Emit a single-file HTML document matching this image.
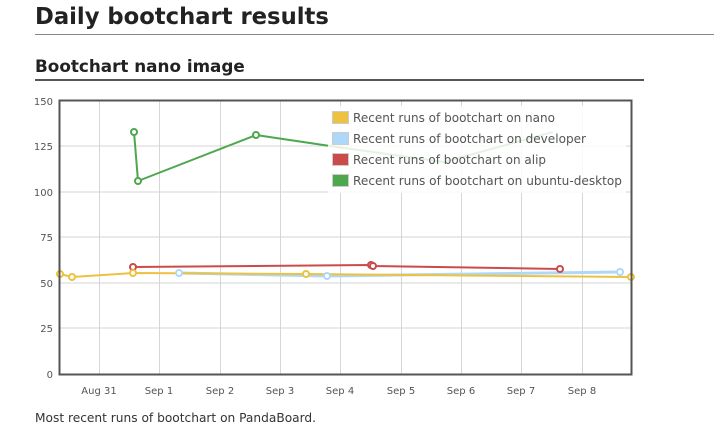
<!DOCTYPE html>
<html><head><meta charset="utf-8"><style>
body{margin:0;background:#fff;font-family:"DejaVu Sans","Liberation Sans",sans-serif;color:#222;width:714px;height:431px;overflow:hidden;position:relative}
h1{position:absolute;left:35px;top:0;margin:0;font-size:22.7px;font-weight:bold;line-height:34px;width:679px;border-bottom:1px solid #888}
h2{position:absolute;left:35px;top:53px;margin:0;font-size:16.8px;font-weight:bold;line-height:26px;width:609px;border-bottom:2px solid #555}
.cap{position:absolute;left:35px;top:411px;font-size:12.2px;color:#333}
svg{position:absolute;left:0;top:0}
</style></head><body>
<h1>Daily bootchart results</h1>
<h2>Bootchart nano image</h2>
<svg width="714" height="431" font-family="DejaVu Sans, Liberation Sans, sans-serif">
<g stroke="#d6d6d6" stroke-width="1">
<line x1="60" y1="146" x2="631" y2="146"/><line x1="60" y1="192" x2="631" y2="192"/><line x1="60" y1="237" x2="631" y2="237"/><line x1="60" y1="283" x2="631" y2="283"/><line x1="60" y1="328" x2="631" y2="328"/>
<line x1="99.5" y1="101" x2="99.5" y2="374"/><line x1="159.5" y1="101" x2="159.5" y2="374"/><line x1="220.5" y1="101" x2="220.5" y2="374"/><line x1="280.5" y1="101" x2="280.5" y2="374"/><line x1="340.5" y1="101" x2="340.5" y2="374"/><line x1="401.5" y1="101" x2="401.5" y2="374"/><line x1="461.5" y1="101" x2="461.5" y2="374"/><line x1="521.5" y1="101" x2="521.5" y2="374"/><line x1="582.5" y1="101" x2="582.5" y2="374"/>
</g>
<g font-size="10" fill="#545454" text-anchor="end">
<text x="53" y="105">150</text><text x="53" y="150">125</text><text x="53" y="196">100</text><text x="53" y="241">75</text><text x="53" y="287">50</text><text x="53" y="332">25</text><text x="53" y="378">0</text>
</g>
<g font-size="10" fill="#545454" text-anchor="middle">
<text x="99" y="394">Aug 31</text><text x="159" y="394">Sep 1</text><text x="220" y="394">Sep 2</text><text x="280" y="394">Sep 3</text><text x="340" y="394">Sep 4</text><text x="401" y="394">Sep 5</text><text x="461" y="394">Sep 6</text><text x="521" y="394">Sep 7</text><text x="582" y="394">Sep 8</text>
</g>
<g fill="none" stroke-width="2" stroke-linejoin="round">
<polyline stroke="#4da74d" points="134,132 138,181 256,135 330,146 444,162 553,132"/>
<polyline stroke="#cb4b4b" points="133,267 371,265 373,266 560,269"/>
<polyline stroke="#afd8f8" stroke-width="3" points="179,273 327,276 620,272"/>
<polyline stroke="#edc240" points="60,274 72,277 133,273 306,274 631,277"/>
</g>
<g fill="#fff" stroke-width="2">
<g stroke="#4da74d"><circle cx="134" cy="132" r="3"/><circle cx="138" cy="181" r="3"/><circle cx="256" cy="135" r="3"/></g>
<g stroke="#cb4b4b"><circle cx="133" cy="267" r="3"/><circle cx="371" cy="265" r="3"/><circle cx="373" cy="266" r="3"/><circle cx="560" cy="269" r="3"/></g>
<g stroke="#afd8f8"><circle cx="179" cy="273" r="3"/><circle cx="327" cy="276" r="3"/><circle cx="620" cy="272" r="3"/></g>
<g stroke="#edc240"><circle cx="60" cy="274" r="3"/><circle cx="72" cy="277" r="3"/><circle cx="133" cy="273" r="3"/><circle cx="306" cy="274" r="3"/><circle cx="631" cy="277" r="3"/></g>
</g>
<rect x="59.5" y="100.5" width="572" height="274" fill="none" stroke="#545454" stroke-width="2"/>
<rect x="328" y="106" width="298" height="87" fill="#fff" opacity="0.85"/>
<g stroke="#ccc" stroke-width="1">
<rect x="332.5" y="111.5" width="16" height="12" fill="#edc240"/>
<rect x="332.5" y="132.5" width="16" height="12" fill="#afd8f8"/>
<rect x="332.5" y="153.5" width="16" height="12" fill="#cb4b4b"/>
<rect x="332.5" y="174.5" width="16" height="12" fill="#4da74d"/>
</g>
<g font-size="12" fill="#545454">
<text x="353" y="122" textLength="202" lengthAdjust="spacingAndGlyphs">Recent runs of bootchart on nano</text>
<text x="353" y="143" textLength="233" lengthAdjust="spacingAndGlyphs">Recent runs of bootchart on developer</text>
<text x="353" y="164" textLength="193" lengthAdjust="spacingAndGlyphs">Recent runs of bootchart on alip</text>
<text x="353" y="185" textLength="269" lengthAdjust="spacingAndGlyphs">Recent runs of bootchart on ubuntu-desktop</text>
</g>
</svg>
<div class="cap">Most recent runs of bootchart on PandaBoard.</div>
</body></html>
